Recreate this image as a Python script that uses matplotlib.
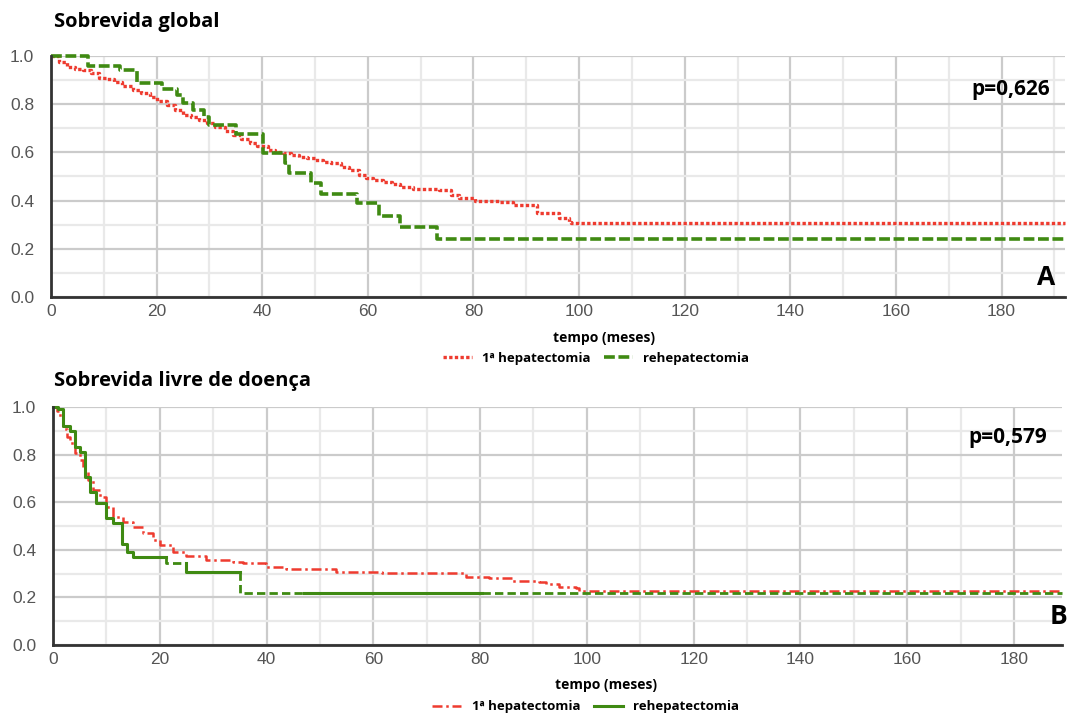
import numpy as np
import matplotlib
matplotlib.use('Agg')
import matplotlib.pyplot as plt
from matplotlib.lines import Line2D

# Sobrevida global - 1a hepatectomia (tempo, sobrevida)
a_red_t = [0, 1.5, 3, 4.5, 6, 7.5, 9, 10.5, 12, 13.5, 15.5, 17, 18.7, 20, 22, 23.5, 25, 26.5, 28,
           29.5, 31, 33, 34.5, 36, 37.6, 39, 41, 42.5, 44, 45.5, 47, 48.5, 50, 51.5, 53, 55,
           56.5, 58.4, 59.7, 61, 62.8, 64.5, 66, 68.5, 73.5, 75.7, 77.3, 80.2, 84.9, 87.4,
           92.1, 95, 96.2, 98.1, 98.5]
a_red_s = [1.0, 0.975, 0.956, 0.948, 0.942, 0.93, 0.91, 0.903, 0.894, 0.877, 0.859, 0.845, 0.831,
           0.815, 0.797, 0.777, 0.755, 0.745, 0.734, 0.722, 0.707, 0.69, 0.672, 0.655, 0.638,
           0.625, 0.61, 0.603, 0.597, 0.59, 0.582, 0.575, 0.568, 0.562, 0.555, 0.541, 0.527,
           0.506, 0.492, 0.486, 0.478, 0.468, 0.458, 0.448, 0.444, 0.423, 0.41, 0.40, 0.396,
           0.382, 0.35, 0.347, 0.327, 0.313, 0.308]
# Sobrevida global - rehepatectomia
a_grn_t = [0, 7.1, 13.0, 16.2, 21.1, 23.8, 24.9, 26.9, 28.9, 29.9, 35.1, 40.1, 44.4, 45.1,
           49.2, 51.1, 58.0, 62.1, 66.1, 73.0]
a_grn_s = [1.0, 0.957, 0.94, 0.889, 0.862, 0.838, 0.805, 0.776, 0.746, 0.712, 0.678, 0.598,
           0.558, 0.515, 0.473, 0.429, 0.388, 0.338, 0.289, 0.242]

# Sobrevida livre de doenca - 1a hepatectomia
b_red_t = [0, 0.7, 1.3, 1.9, 2.6, 3.2, 4.1, 5.0, 5.7, 6.6, 7.5, 8.8, 10, 11.3, 13.1, 15, 16.9,
           18.7, 20, 22.5, 25, 28.7, 33.7, 35.6, 39.9, 43.7, 53, 61.7, 75.5, 77.3, 81.7, 86,
           91, 92.3, 94.8, 97.9, 98.5]
b_red_s = [1.0, 0.985, 0.952, 0.906, 0.875, 0.847, 0.805, 0.777, 0.735, 0.693, 0.651, 0.623,
           0.581, 0.539, 0.518, 0.497, 0.469, 0.441, 0.42, 0.392, 0.374, 0.357, 0.35, 0.343,
           0.329, 0.318, 0.308, 0.304, 0.304, 0.287, 0.28, 0.27, 0.266, 0.256, 0.245, 0.238,
           0.227]
# Sobrevida livre de doenca - rehepatectomia
b_grn_t = [0, 1.0, 1.9, 3.2, 4.1, 5.0, 6.0, 6.9, 8.0, 10.0, 11.3, 13.0, 13.9, 14.9, 21.1, 25.0,
           35.0]
b_grn_s = [1.0, 0.99, 0.92, 0.90, 0.833, 0.812, 0.705, 0.644, 0.598, 0.535, 0.511, 0.424,
           0.392, 0.371, 0.343, 0.308, 0.217]

RED = '#ee3b2f'
GREEN = '#3f8a12'
xticks = [0, 20, 40, 60, 80, 100, 120, 140, 160, 180]
yticks = [0.0, 0.2, 0.4, 0.6, 0.8, 1.0]


def step_path(t, s, xmax):
    xs, ys = [t[0]], [s[0]]
    for ti, si in zip(t[1:], s[1:]):
        xs += [ti, ti]
        ys += [ys[-1], si]
    xs.append(xmax)
    ys.append(ys[-1])
    return xs, ys


def piece(t, s, a, b):
    # trecho do degrau entre a e b (queda em a incluida)
    v = s[0]
    for ti, si in zip(t, s):
        if ti < a:
            v = si
    xs, ys = [a], [v]
    for ti, si in zip(t, s):
        if a <= ti < b:
            xs += [ti, ti]
            ys += [ys[-1], si]
    xs.append(b)
    ys.append(ys[-1])
    return xs, ys


def style_ax(ax, xmax):
    ax.set_xlim(0, xmax)
    ax.set_ylim(0, 1.0)
    ax.set_xticks(xticks)
    ax.set_yticks(yticks)
    ax.set_xticks(np.arange(10, xmax, 20), minor=True)
    ax.set_yticks([0.1, 0.3, 0.5, 0.7, 0.9], minor=True)
    ax.set_yticklabels(['%.1f' % v for v in yticks])
    ax.grid(which='major', color='#cbcbcb', lw=1.6)
    ax.grid(which='minor', color='#e9e9e9', lw=1.6)
    ax.set_axisbelow(True)
    ax.tick_params(which='both', length=0, labelsize=12.5, labelcolor='#555555',
                   labelfontfamily='Liberation Sans')
    ax.tick_params(axis='y', pad=12)
    ax.tick_params(axis='x', pad=5)
    for sp in ['top', 'right']:
        ax.spines[sp].set_visible(False)
    for sp in ['left', 'bottom']:
        ax.spines[sp].set_color('#333333')
        ax.spines[sp].set_linewidth(2)
        ax.spines[sp].set_zorder(5)


fig = plt.figure(figsize=(10.67, 7.15), dpi=100)
TF = dict(family='Open Sans', fontweight='bold')

# ---- A
ax1 = fig.add_axes([0.0478, 0.5846, 0.9503, 0.3371])
xa = 192
style_ax(ax1, xa)
x, y = step_path(a_red_t, a_red_s, xa)
ax1.plot(x, y, color=RED, lw=2.4, ls=(0, (1, 0.7)), clip_on=False, zorder=3)
x, y = step_path(a_grn_t, a_grn_s, xa)
ax1.plot(x, y, color=GREEN, lw=2.6, ls=(0, (3, 1)), clip_on=False, zorder=3)
ax1.text(0.0025, 1.14, 'Sobrevida global', transform=ax1.transAxes, fontsize=14.5,
         va='center', ha='left', **TF)
ax1.text(0.985, 0.86, 'p=0,626', transform=ax1.transAxes, fontsize=15,
         va='center', ha='right', **TF)
ax1.text(0.99, 0.08, 'A', transform=ax1.transAxes, fontsize=19,
         va='center', ha='right', **TF)
ax1.set_xlabel('tempo (meses)', fontsize=10, **TF)
ax1.xaxis.set_label_coords(0.545, -0.14)
h1 = [Line2D([], [], color=RED, lw=2.4, ls=(0, (1, 0.7))),
      Line2D([], [], color=GREEN, lw=2.6, ls=(0, (3, 1)))]
fig.legend(h1, ['1ª hepatectomia', 'rehepatectomia'], loc='center',
           bbox_to_anchor=(0.5586, 0.4993), ncol=2, frameon=False,
           handlelength=2.2, handletextpad=0.8, columnspacing=1.0,
           prop=dict(family='Open Sans', weight='bold', size=9.5))

# ---- B
ax2 = fig.add_axes([0.0497, 0.0979, 0.9456, 0.3329])
xb = 189
style_ax(ax2, xb)
x, y = step_path(b_red_t, b_red_s, xb)
ax2.plot(x, y, color=RED, lw=1.8, ls=(0, (4, 1.5, 1, 1.5)), clip_on=False, zorder=3)
solid = [(0, 21.1), (25.0, 35.0), (47, 80.4)]
dashed = [(21.1, 25.0), (35.0, 47), (80.4, xb)]
for a, b in solid:
    x, y = piece(b_grn_t, b_grn_s, a, b)
    ax2.plot(x, y, color=GREEN, lw=2.2, clip_on=False, zorder=3)
for a, b in dashed:
    x, y = piece(b_grn_t, b_grn_s, a, b)
    ax2.plot(x, y, color=GREEN, lw=2.0, ls=(0, (3, 1.5)), clip_on=False, zorder=3)
ax2.text(0.0005, 1.11, 'Sobrevida livre de doença', transform=ax2.transAxes, fontsize=14.5,
         va='center', ha='left', **TF)
ax2.text(0.985, 0.87, 'p=0,579', transform=ax2.transAxes, fontsize=15,
         va='center', ha='right', **TF)
ax2.text(1.005, 0.12, 'B', transform=ax2.transAxes, fontsize=19,
         va='center', ha='right', **TF)
ax2.set_xlabel('tempo (meses)', fontsize=10, **TF)
ax2.xaxis.set_label_coords(0.548, -0.14)
h2 = [Line2D([], [], color=RED, lw=1.8, ls=(0, (4, 1.5, 1, 1.5))),
      Line2D([], [], color=GREEN, lw=2.2)]
fig.legend(h2, ['1ª hepatectomia', 'rehepatectomia'], loc='center',
           bbox_to_anchor=(0.549, 0.0112), ncol=2, frameon=False,
           handlelength=2.2, handletextpad=0.8, columnspacing=1.0,
           prop=dict(family='Open Sans', weight='bold', size=9.5))

fig.savefig('out.png', dpi=100)
